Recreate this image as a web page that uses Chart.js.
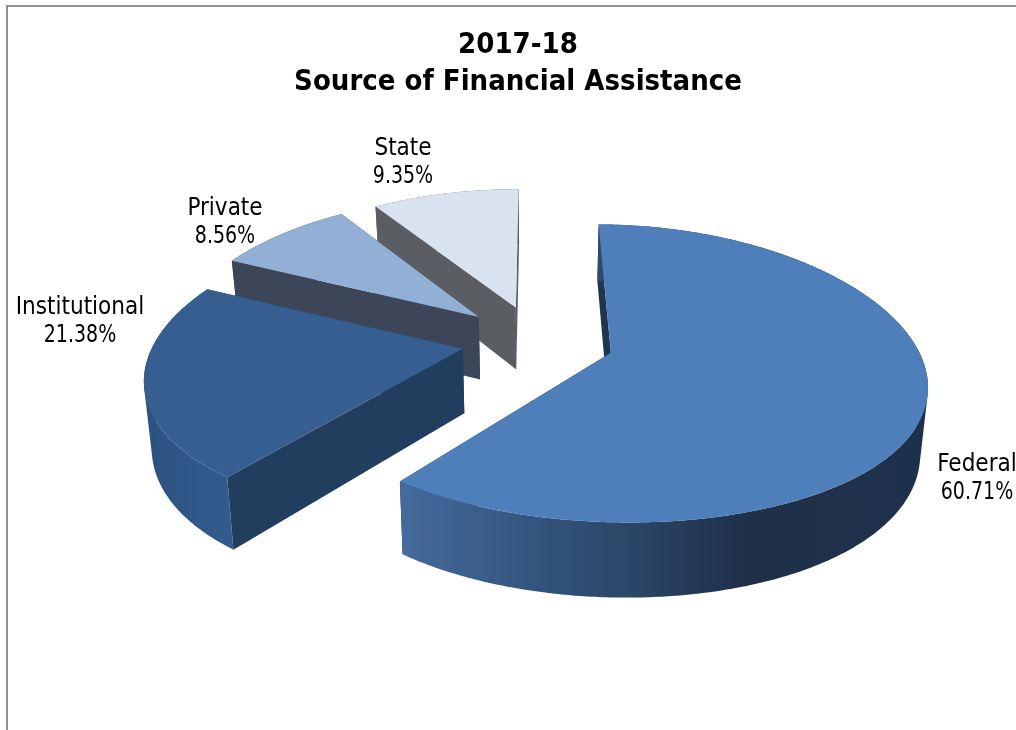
<!DOCTYPE html>
<html><head><meta charset="utf-8">
<script src="https://cdn.jsdelivr.net/npm/chart.js@4/dist/chart.umd.min.js"></script>
<style>
html,body{margin:0;padding:0;background:#fff;overflow:hidden}
#wrap{position:relative;width:1016px;height:730px}
#frame{position:absolute;left:6px;top:5px;width:1010px;height:725px;border-left:2px solid #8f8f8f;border-top:2px solid #8f8f8f;box-sizing:border-box}
canvas{position:absolute;left:0;top:0}
</style></head><body>
<div id="wrap"><canvas id="c" width="1016" height="730"></canvas><div id="frame"></div></div>
<script>
const categories = ['Federal','Institutional','Private','State'];
const shares = [60.71,21.38,8.56,9.35];
const explosion = [0.25,0.248,0.26,0.25];
const topColors = ['#4f7fbb','#365e91','#92b0d6','#d9e3f0'];
const wallColors = ['#1f3550','#223e5e','#3c4658','#5a5d62'];
const rimStops = [
  [[400,'#456b9c'],[530,'#34557f'],[640,'#2a4566'],[745,'#1f3049'],[927,'#1e314c']],
  [[146,'#2c5280'],[233,'#335c8e']],
  [[229,'#3c4658'],[340,'#3c4658']],
  [[371,'#5a5d62'],[516,'#5a5d62']]
];
const labelAnchors = [[977,465],[80,308],[225,209],[403,149]];
const LABEL_FONT = '24px "DejaVu Sans Condensed","DejaVu Sans"';
const VALUE_SQUEEZE = 0.88;
const view = {cx:537.5,cy:343,R:306,Ry:143,kx:0.18,ky:0.138,skewX:6,skewY:3.75,liftY:2.25,depth:64,shrink:0.98};

function project(u,v,low){
  const w = 1 - view.ky*v;
  let x = view.cx + view.R*u/(1-view.kx*v) - view.skewX*v;
  let y = view.cy - view.liftY + view.Ry*v/w + view.skewY*u;
  if(low){ x = view.cx + (x-view.cx)*view.shrink; y += view.depth/w; }
  return [x,y];
}
function trace(ctx,pts){
  pts.forEach((p,i)=> i?ctx.lineTo(p[0],p[1]):ctx.moveTo(p[0],p[1]));
  ctx.closePath();
}
function poly(ctx,pts,fill){
  ctx.beginPath(); trace(ctx,pts); ctx.fillStyle=fill; ctx.fill();
}
function area(pts){
  let s=0;
  pts.forEach((p,i)=>{const q=pts[(i+1)%pts.length]; s+=p[0]*q[1]-q[0]*p[1];});
  return s;
}
const pie3d = {
  id:'pie3d',
  beforeDatasetDraw(chart){
    const ctx = chart.ctx, meta = chart.getDatasetMeta(0);
    const order = meta.data.map((a,i)=>i).sort((p,q)=>{
      const m=a=>Math.sin((meta.data[a].startAngle+meta.data[a].endAngle)/2);
      return m(p)-m(q);
    });
    order.forEach(i=>{
      const a = meta.data[i], s=a.startAngle, e=a.endAngle, mid=(s+e)/2;
      const ox=explosion[i]*Math.cos(mid), oy=explosion[i]*Math.sin(mid);
      const rim=[]; const N=Math.ceil((e-s)/0.01);
      for(let n=0;n<=N;n++){const t=s+(e-s)*n/N; rim.push([ox+Math.cos(t),oy+Math.sin(t)]);}
      const high=rim.map(p=>project(p[0],p[1],false));
      const low=rim.map(p=>project(p[0],p[1],true));
      const ah=project(ox,oy,false), al=project(ox,oy,true);
      poly(ctx,[ah,high[N],low[N],al],wallColors[i]);
      poly(ctx,[ah,high[0],low[0],al],wallColors[i]);
      const stops=rimStops[i], x0=stops[0][0], x1=stops[stops.length-1][0];
      const g=ctx.createLinearGradient(x0,0,x1,0);
      stops.forEach(st=>g.addColorStop((st[0]-x0)/(x1-x0),st[1]));
      ctx.beginPath();
      for(let n=0;n<N;n++){
        const q=[high[n],high[n+1],low[n+1],low[n]];
        trace(ctx, area(q)<0 ? q.reverse() : q);
      }
      ctx.fillStyle=g; ctx.fill('nonzero');
      poly(ctx,[ah].concat(high),a.options.backgroundColor);
    });
    return false;
  },
  afterDatasetsDraw(chart){
    const ctx=chart.ctx;
    ctx.save(); ctx.font=LABEL_FONT; ctx.fillStyle='#000'; ctx.textAlign='center'; ctx.textBaseline='middle';
    categories.forEach((c,i)=>{
      const p=labelAnchors[i];
      const val=shares[i].toFixed(2)+'%';
      ctx.fillText(c,p[0],p[1]);
      ctx.fillText(val,p[0],p[1]+28,ctx.measureText(val).width*VALUE_SQUEEZE);
    });
    ctx.restore();
  }
};
new Chart(document.getElementById('c'),{
  type:'pie',
  data:{labels:categories,datasets:[{data:shares,backgroundColor:topColors,borderWidth:0}]},
  plugins:[pie3d],
  options:{
    responsive:false,animation:false,rotation:-1.5,
    layout:{padding:{left:20,top:0}},
    events:[],
    plugins:{
      legend:{display:false},tooltip:{enabled:false},
      title:{display:true,text:['2017-18','Source of Financial Assistance'],color:'#000',
        font:{family:'"DejaVu Sans Condensed","DejaVu Sans"',size:29,weight:'bold',lineHeight:1.276},padding:{top:27,bottom:10}}
    }
  }
});
</script></body></html>
